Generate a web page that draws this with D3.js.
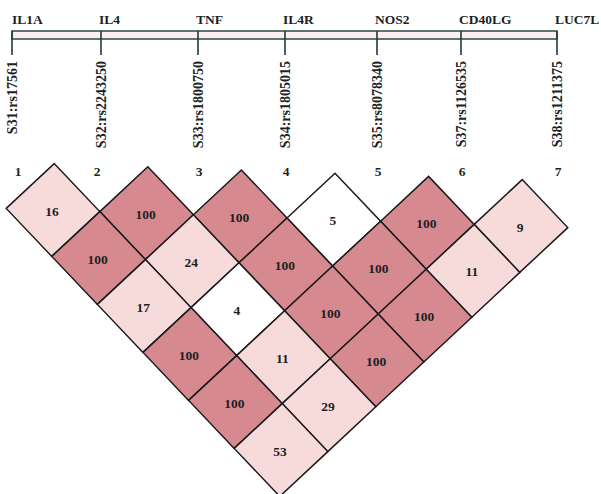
<!DOCTYPE html>
<html>
<head>
<meta charset="utf-8">
<script src="https://cdn.jsdelivr.net/npm/d3@7/dist/d3.min.js"></script>
<style>
  html, body { margin: 0; padding: 0; background: #ffffff; }
  svg { display: block; }
  text { font-family: "Liberation Serif", "Times New Roman", serif; font-weight: bold; fill: #1c1f24; }
</style>
</head>
<body>
<svg id="chart" width="601" height="494"></svg>
<script>
// Genes and markers along the map
const genes = ["IL1A", "IL4", "TNF", "IL4R", "NOS2", "CD40LG", "LUC7L"];
const snps = ["S31:rs17561", "S32:rs2243250", "S33:rs1800750", "S34:rs1805015",
              "S35:rs8078340", "S37:rs1126535", "S38:rs1211375"];
const markerNumbers = ["1", "2", "3", "4", "5", "6", "7"];
// relative marker positions on the map bar
const markerPos = [0, 89, 186, 273, 365, 449, 545];

// Pairwise D' (x100); row k holds pairs of markers that are k+1 apart
const dprimeByDistance = [
  [16, 100, 100, 5, 100, 9],
  [100, 24, 100, 100, 11],
  [17, 4, 100, 100],
  [100, 11, 100],
  [100, 29],
  [53]
];

const svg = d3.select("#chart");
const lineColor = "#1f3a3c";

// Map bar
const x = d3.scaleLinear().domain([0, 545]).range([12, 557]);
const barTop = 31, barBottom = 39, tickBottom = 55;

svg.append("rect")
  .attr("x", x(0)).attr("y", barTop)
  .attr("width", x(545) - x(0)).attr("height", barBottom - barTop)
  .attr("fill", "#fbf0ef")
  .attr("stroke", lineColor).attr("stroke-width", 1.4);

svg.selectAll("line.tick")
  .data(markerPos)
  .join("line")
  .attr("class", "tick")
  .attr("x1", d => x(d)).attr("x2", d => x(d))
  .attr("y1", barTop).attr("y2", tickBottom)
  .attr("stroke", lineColor).attr("stroke-width", 1.6);

// Gene names above the bar
svg.selectAll("text.gene")
  .data(genes)
  .join("text")
  .attr("class", "gene")
  .attr("x", (d, i) => x(markerPos[i]) - (i === 0 ? 0 : 2))
  .attr("y", 24)
  .attr("font-size", 13.5)
  .text(d => d);

// Marker names, vertical
svg.selectAll("text.snp")
  .data(snps)
  .join("text")
  .attr("class", "snp")
  .attr("transform", (d, i) => `translate(${x(markerPos[i]) + 5},61) rotate(-90)`)
  .attr("text-anchor", "end")
  .attr("font-size", 14)
  .text(d => d);

// Marker index numbers
svg.selectAll("text.num")
  .data(markerNumbers)
  .join("text")
  .attr("class", "num")
  .attr("x", (d, i) => x(markerPos[i]) + (i === 0 ? 6 : i === 1 ? -4 : 1))
  .attr("y", 176)
  .attr("text-anchor", "middle")
  .attr("font-size", 13.5)
  .text(d => d);

// LD triangle: affine lattice; s steps down-right, t steps up-right
const sx = d3.scaleLinear().domain([0, 5]).range([0, 228]);
const sy = d3.scaleLinear().domain([0, 5]).range([0, 240]);
const tx = d3.scaleLinear().domain([0, 5]).range([0, 240]);
const ty = d3.scaleLinear().domain([0, 5]).range([0, -224]);
const origin = [53, 210];
const pt = (s, t) => [origin[0] + sx(s) + tx(t), origin[1] + sy(s) + ty(t)];

const cells = [];
dprimeByDistance.forEach((row, k) => {
  row.forEach((v, i) => {
    // pair (i+1, i+k+2)
    cells.push({ a: i + 1, b: i + k + 2, s: k + i, t: i, value: v });
  });
});

const fill = d3.scaleThreshold()
  .domain([6, 100])
  .range(["#ffffff", "#f7dbdb", "#d68a8f"]);

const g = svg.append("g");
g.selectAll("path.cell")
  .data(cells)
  .join("path")
  .attr("class", "cell")
  .attr("d", d => {
    const c = [
      pt(d.s - 0.5, d.t - 0.5),
      pt(d.s - 0.5, d.t + 0.5),
      pt(d.s + 0.5, d.t + 0.5),
      pt(d.s + 0.5, d.t - 0.5)
    ];
    return d3.line()(c) + "Z";
  })
  .attr("fill", d => fill(d.value))
  .attr("stroke", "#1a1a1a")
  .attr("stroke-width", 1.5)
  .attr("stroke-linejoin", "miter");

g.selectAll("text.val")
  .data(cells)
  .join("text")
  .attr("class", "val")
  .attr("x", d => pt(d.s, d.t)[0] - 1)
  .attr("y", d => pt(d.s, d.t)[1] + 1)
  .attr("text-anchor", "middle")
  .attr("dominant-baseline", "central")
  .attr("font-size", 13.5)
  .text(d => d.value);
</script>
</body>
</html>
